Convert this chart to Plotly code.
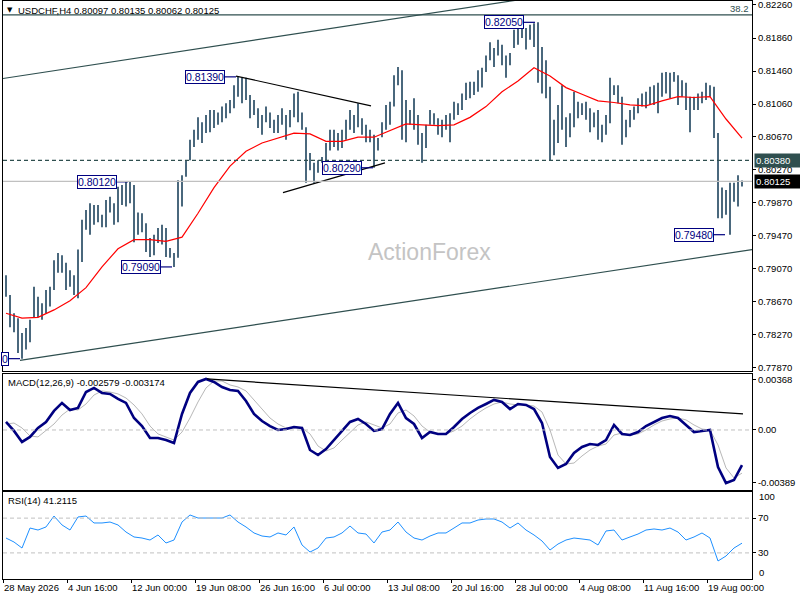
import plotly.graph_objects as go
from plotly.subplots import make_subplots

# ---- data (H4 USDCHF) ----
symbol_info = "USDCHF,H4 0.80097 0.80135 0.80062 0.80125"

# bar highs / lows, one entry every second H4 bar
bar_high = [
    0.7899, 0.7875, 0.7853, 0.7847, 0.7829, 0.7835, 0.7845, 0.7885, 0.7873, 0.7865,
    0.7881, 0.7885, 0.7917, 0.7926, 0.7923, 0.7914, 0.7905, 0.7899, 0.7930, 0.7966,
    0.7978, 0.7986, 0.7984, 0.7984, 0.7972, 0.7990, 0.7994, 0.7986, 0.8006, 0.8008,
    0.8012, 0.8012, 0.8008, 0.7975, 0.7974, 0.7962, 0.7944, 0.7948, 0.7956, 0.7960,
    0.7956, 0.7932, 0.7926, 0.8014, 0.8020, 0.8038, 0.8063, 0.8075, 0.8090, 0.8084,
    0.8093, 0.8099, 0.8099, 0.8096, 0.8103, 0.8107, 0.8111, 0.8129, 0.8139, 0.8138,
    0.8138, 0.8117, 0.8111, 0.8101, 0.8093, 0.8103, 0.8096, 0.8087, 0.8093, 0.8101,
    0.8093, 0.8099, 0.8119, 0.8121, 0.8096, 0.8078, 0.8047, 0.8035, 0.8038, 0.8042,
    0.8059, 0.8075, 0.8075, 0.8071, 0.8075, 0.8087, 0.8099, 0.8093, 0.8107, 0.8089,
    0.8081, 0.8075, 0.8069, 0.8065, 0.8084, 0.8105, 0.8109, 0.8141, 0.8151, 0.8147,
    0.8111, 0.8099, 0.8113, 0.8093, 0.8071, 0.8081, 0.8099, 0.8095, 0.8089, 0.8087,
    0.8093, 0.8095, 0.8109, 0.8107, 0.8119, 0.8132, 0.8133, 0.8133, 0.8147, 0.8150,
    0.8165, 0.8181, 0.8174, 0.8184, 0.8178, 0.8165, 0.8168, 0.8196, 0.8198, 0.8204,
    0.8198, 0.8202, 0.8204, 0.8205, 0.8175, 0.8159, 0.8127, 0.8087, 0.8105, 0.8129,
    0.8090, 0.8095, 0.8121, 0.8109, 0.8107, 0.8109, 0.8101, 0.8096, 0.8099, 0.8081,
    0.8093, 0.8138, 0.8129, 0.8129, 0.8115, 0.8087, 0.8099, 0.8103, 0.8113, 0.8119,
    0.8121, 0.8127, 0.8129, 0.8132, 0.8144, 0.8145, 0.8144, 0.8145, 0.8141, 0.8135,
    0.8132, 0.8115, 0.8115, 0.8119, 0.8121, 0.8132, 0.8129, 0.8127, 0.8071, 0.8005,
    0.8002, 0.8011, 0.8011, 0.8020, 0.80135,
]
bar_low = [
    0.7873, 0.7836, 0.7830, 0.7805, 0.7798, 0.7809, 0.7818, 0.7848, 0.7848, 0.7845,
    0.7853, 0.7861, 0.7881, 0.7902, 0.7902, 0.7881, 0.7885, 0.7875, 0.7871, 0.7915,
    0.7954, 0.7948, 0.7960, 0.7963, 0.7957, 0.7957, 0.7975, 0.7960, 0.7963, 0.7984,
    0.7982, 0.7986, 0.7939, 0.7948, 0.7951, 0.7927, 0.7921, 0.7923, 0.7938, 0.7936,
    0.7921, 0.7920, 0.7909, 0.7920, 0.7982, 0.8018, 0.8038, 0.8054, 0.8063, 0.8059,
    0.8071, 0.8072, 0.8077, 0.8081, 0.8084, 0.8089, 0.8095, 0.8101, 0.8115, 0.8107,
    0.8111, 0.8089, 0.8093, 0.8077, 0.8069, 0.8084, 0.8077, 0.8071, 0.8071, 0.8081,
    0.8063, 0.8078, 0.8090, 0.8084, 0.8075, 0.8011, 0.8026, 0.8011, 0.8023, 0.8035,
    0.8038, 0.8050, 0.8054, 0.8050, 0.8053, 0.8063, 0.8075, 0.8071, 0.8078, 0.8069,
    0.8060, 0.8060, 0.8029, 0.8050, 0.8066, 0.8075, 0.8081, 0.8103, 0.8129, 0.8063,
    0.8060, 0.8081, 0.8075, 0.8057, 0.8035, 0.8053, 0.8081, 0.8081, 0.8069, 0.8066,
    0.8075, 0.8060, 0.8087, 0.8093, 0.8099, 0.8111, 0.8113, 0.8117, 0.8121, 0.8126,
    0.8145, 0.8159, 0.8151, 0.8165, 0.8153, 0.8138, 0.8153, 0.8174, 0.8178, 0.8186,
    0.8172, 0.8184, 0.8175, 0.8132, 0.8119, 0.8113, 0.8038, 0.8044, 0.8059, 0.8075,
    0.8054, 0.8066, 0.8078, 0.8089, 0.8093, 0.8087, 0.8072, 0.8078, 0.8063, 0.8060,
    0.8069, 0.8083, 0.8117, 0.8107, 0.8057, 0.8066, 0.8078, 0.8087, 0.8095, 0.8103,
    0.8101, 0.8105, 0.8105, 0.8095, 0.8115, 0.8119, 0.8113, 0.8133, 0.8105, 0.8115,
    0.8099, 0.8072, 0.8099, 0.8099, 0.8107, 0.8111, 0.8115, 0.8065, 0.7968, 0.7968,
    0.7972, 0.7948, 0.7988, 0.7982, 0.80062,
]

# 55-period moving average, one value every 8 H4 bars
ma_values = [
    0.7853, 0.7847, 0.7848, 0.7857, 0.7868, 0.7884, 0.7909, 0.7931, 0.7942, 0.7942,
    0.7940, 0.7945, 0.7974, 0.8005, 0.8031, 0.8049, 0.8059, 0.8065, 0.8071, 0.8070,
    0.8061, 0.8061, 0.8066, 0.8066, 0.8074, 0.8082, 0.8081, 0.8080, 0.8081, 0.8090,
    0.8103, 0.8121, 0.8134, 0.8150, 0.8140, 0.8126, 0.8118, 0.8110, 0.8108, 0.8105,
    0.8104, 0.8110, 0.8115, 0.8114, 0.8115, 0.8088, 0.8065,
]

# indicators, one value every 4 H4 bars
macd_values = [
    0.00059, -0.00007, -0.00088, -0.00051, 0.00015, 0.00059, 0.00140, 0.00199, 0.00147, 0.00162,
    0.00279, 0.00309, 0.00272, 0.00265, 0.00228, 0.00199, 0.00088, 0.00029, -0.00059, -0.00059,
    -0.00074, -0.00096, 0.00118, 0.00272, 0.00353, 0.00375, 0.00353, 0.00316, 0.00294, 0.00287,
    0.00213, 0.00118, 0.00066, 0.00029, 0.00000, 0.00007, 0.00022, 0.00015, -0.00147, -0.00184,
    -0.00140, -0.00074, -0.00007, 0.00059, 0.00081, 0.00044, -0.00007, 0.00007, 0.00118, 0.00199,
    0.00088, 0.00044, -0.00059, -0.00015, -0.00029, -0.00029, 0.00022, 0.00081, 0.00125, 0.00162,
    0.00191, 0.00221, 0.00206, 0.00154, 0.00191, 0.00184, 0.00154, 0.00051, -0.00199, -0.00279,
    -0.00250, -0.00169, -0.00125, -0.00103, -0.00110, -0.00074, 0.00037, -0.00029, -0.00037, -0.00015,
    0.00029, 0.00059, 0.00088, 0.00103, 0.00088, 0.00037, -0.00015, -0.00007, 0.00000, -0.00272,
    -0.00390, -0.00368, -0.00258,
]
signal_values = [
    0.00044, 0.00051, 0.00015, -0.00044, -0.00051, 0.00000, 0.00044, 0.00110, 0.00154, 0.00147,
    0.00191, 0.00257, 0.00287, 0.00279, 0.00265, 0.00235, 0.00184, 0.00118, 0.00029, -0.00029,
    -0.00051, -0.00074, -0.00015, 0.00088, 0.00206, 0.00309, 0.00360, 0.00360, 0.00331, 0.00316,
    0.00287, 0.00221, 0.00147, 0.00088, 0.00044, 0.00015, 0.00015, 0.00015, -0.00029, -0.00118,
    -0.00154, -0.00132, -0.00074, -0.00015, 0.00037, 0.00059, 0.00037, 0.00015, 0.00044, 0.00125,
    0.00147, 0.00103, 0.00029, -0.00015, -0.00029, -0.00029, -0.00007, 0.00029, 0.00081, 0.00125,
    0.00162, 0.00191, 0.00206, 0.00191, 0.00184, 0.00184, 0.00176, 0.00132, 0.00000, -0.00184,
    -0.00250, -0.00243, -0.00191, -0.00147, -0.00118, -0.00103, -0.00037, -0.00022, -0.00037, -0.00029,
    0.00000, 0.00037, 0.00066, 0.00081, 0.00088, 0.00074, 0.00037, 0.00007, 0.00000, -0.00110,
    -0.00279, -0.00353, -0.00317,
]
rsi_values = [
    47.1, 42.5, 35.6, 58.6, 56.3, 59.8, 72.4, 62.1, 56.3, 71.3,
    72.4, 64.4, 64.4, 65.5, 62.1, 54.0, 48.3, 47.1, 44.8, 50.6,
    41.4, 44.8, 65.5, 73.6, 70.1, 70.1, 70.1, 70.1, 73.6, 65.5,
    59.8, 52.9, 49.4, 48.3, 52.9, 50.6, 59.8, 39.1, 31.0, 35.6,
    47.1, 48.3, 52.9, 60.9, 52.9, 51.7, 41.4, 54.0, 56.3, 65.5,
    54.0, 47.1, 44.8, 49.4, 52.9, 52.9, 58.6, 64.4, 64.4, 67.8,
    69.0, 69.0, 65.5, 58.6, 64.4, 56.3, 50.6, 43.7, 33.3, 40.2,
    44.8, 47.1, 46.0, 44.8, 39.1, 55.2, 56.3, 44.8, 48.3, 51.7,
    56.3, 57.5, 56.3, 58.6, 54.0, 44.8, 48.3, 52.9, 47.1, 20.7,
    26.4, 35.6, 41.2,
]

date_labels = ["28 May 2026", "4 Jun 16:00", "12 Jun 00:00", "19 Jun 08:00",
               "26 Jun 16:00", "6 Jul 00:00", "13 Jul 08:00", "20 Jul 16:00",
               "28 Jul 00:00", "4 Aug 08:00", "11 Aug 16:00", "19 Aug 00:00"]
price_ticks = [0.82260, 0.81860, 0.81460, 0.81060, 0.80670, 0.80270,
               0.79870, 0.79470, 0.79070, 0.78670, 0.78270, 0.77870]
macd_ticks = [0.00368, 0.0, -0.00389]

# drawn objects, (bar, price)
upper_channel = [(0, 0.8137), (260, 0.8233)]
lower_channel = [(8.5, 0.7796), (374.5, 0.7930)]
triangle_top = [(116.5, 0.8140), (184, 0.8104)]
triangle_bottom = [(140, 0.7999), (191, 0.8035)]
macd_trend = [(102, 0.00375), (370, 0.00118)]
swing_points = [(116.5, 0.81390), (62.5, 0.80120), (185, 0.80290),
                (84.5, 0.79090), (266, 0.82050), (361, 0.79480)]
first_low = (8.5, 0.77980)
resistance = 0.80380
last_price = 0.80125
fib_level = 0.82140

BAR_COL = "#0E3652"
FONT = "Liberation Sans"

fig = make_subplots(rows=3, cols=1, shared_xaxes=True, vertical_spacing=0.005)

# price bars drawn as high-low sticks
bx, by = [], []
for k in range(len(bar_high)):
    xk = 1.5 + 2 * k
    bx += [xk, xk, None]
    by += [bar_low[k], bar_high[k], None]
fig.add_trace(go.Scatter(x=bx, y=by, mode='lines', line=dict(color=BAR_COL, width=1.5),
                         hoverinfo='skip'), 1, 1)

fig.add_trace(go.Scatter(x=[1.5 + 8 * i for i in range(len(ma_values))], y=ma_values,
                         mode='lines', line=dict(color='red', width=1.2)), 1, 1)

for seg, col in [(upper_channel, '#2F4F4F'), (lower_channel, '#2F4F4F'),
                 (triangle_top, 'black'), (triangle_bottom, 'black')]:
    fig.add_trace(go.Scatter(x=[p[0] for p in seg], y=[p[1] for p in seg], mode='lines',
                             line=dict(color=col, width=1.2)), 1, 1)

# swing labels with connectors
for bar, price in swing_points + [first_low]:
    fig.add_trace(go.Scatter(x=[bar - 5.5, bar], y=[price, price], mode='lines',
                             line=dict(color='#000080', width=1.2)), 1, 1)

ix = [1.5 + 4 * i for i in range(len(macd_values))]
fig.add_trace(go.Scatter(x=ix, y=signal_values, mode='lines',
                         line=dict(color='#B8B8B8', width=1)), 2, 1)
fig.add_trace(go.Scatter(x=ix, y=macd_values, mode='lines',
                         line=dict(color='#000080', width=2.6)), 2, 1)
fig.add_trace(go.Scatter(x=[p[0] for p in macd_trend], y=[p[1] for p in macd_trend],
                         mode='lines', line=dict(color='black', width=1.2)), 2, 1)

fig.add_trace(go.Scatter(x=ix, y=rsi_values, mode='lines',
                         line=dict(color='#1E90FF', width=1)), 3, 1)

# horizontal levels
fig.add_shape(type='line', xref='x domain', yref='y', x0=0, x1=1, y0=fib_level, y1=fib_level,
              line=dict(color='#2F4F4F', width=1.2))
fig.add_shape(type='line', xref='x domain', yref='y', x0=0, x1=1, y0=resistance, y1=resistance,
              line=dict(color='#2F4F4F', width=1.2, dash='4px,3px'))
fig.add_shape(type='line', xref='x domain', yref='y', x0=0, x1=1, y0=last_price, y1=last_price,
              line=dict(color='#C0C0C0', width=1.2))
fig.add_shape(type='line', xref='x2 domain', yref='y2', x0=0, x1=1, y0=0, y1=0,
              line=dict(color='#C0C0C0', width=1, dash='4px,3px'))
for lvl in [70, 30]:
    fig.add_shape(type='line', xref='x3 domain', yref='y3', x0=0, x1=1, y0=lvl, y1=lvl,
                  line=dict(color='#C0C0C0', width=1, dash='4px,3px'))

ann = []
for bar, price in swing_points:
    ann.append(dict(x=bar - 5.5, y=price, xref='x', yref='y', text=f"{price:.5f}",
                    xanchor='right', yanchor='middle', showarrow=False,
                    font=dict(family=FONT, size=10.5, color='#000080'),
                    bgcolor='white', bordercolor='#000080', borderwidth=1, borderpad=0))
ann.append(dict(x=first_low[0] - 5.5, y=first_low[1], xref='x', yref='y', text="0",
                xanchor='right', yanchor='middle', showarrow=False,
                font=dict(family=FONT, size=10.5, color='#000080'),
                bgcolor='white', bordercolor='#000080', borderwidth=1, borderpad=0))
ann.append(dict(x=0.57, y=0.7927, xref='paper', yref='y', text="ActionForex", showarrow=False,
                font=dict(family=FONT, size=23, color='#C4C4C4')))
ann.append(dict(x=0, y=1, xref='paper', yref='paper', text="▼", showarrow=False,
                xanchor='left', yanchor='top', xshift=2, yshift=-3,
                font=dict(family='DejaVu Sans', size=7, color='black')))
ann.append(dict(x=0, y=1, xref='paper', yref='paper', text=symbol_info, showarrow=False,
                xanchor='left', yanchor='top', xshift=13, yshift=-2,
                font=dict(family=FONT, size=9.5, color='black')))
ann.append(dict(x=1, y=fib_level, xref='paper', yref='y', text="38.2", showarrow=False,
                xanchor='right', yanchor='bottom', xshift=-1, yshift=-1,
                font=dict(family=FONT, size=9.5, color='#2F4F4F')))
for price, bg in [(resistance, '#2F4F4F'), (last_price, 'black')]:
    ann.append(dict(x=1, y=price, xref='paper', yref='y', text=f"{price:.5f}", showarrow=False,
                    xanchor='left', yanchor='middle', xshift=2, width=43, height=11,
                    align='left', bgcolor=bg, font=dict(family=FONT, size=9.5, color='white')))
ann.append(dict(x=0, y=1, xref='paper', yref='y2 domain', text="MACD(12,26,9) -0.002579 -0.003174",
                showarrow=False, xanchor='left', yanchor='top', xshift=3, yshift=-1,
                font=dict(family=FONT, size=9.5, color='black')))
ann.append(dict(x=0, y=1, xref='paper', yref='y3 domain', text="RSI(14) 41.2115",
                showarrow=False, xanchor='left', yanchor='top', xshift=3, yshift=-1,
                font=dict(family=FONT, size=9.5, color='black')))
for lab, val in [("100", 94.3), ("0", 8)]:
    ann.append(dict(x=1, y=val, xref='paper', yref='y3', text=lab, showarrow=False,
                    xanchor='left', yanchor='middle', xshift=5,
                    font=dict(family=FONT, size=9.5, color='black')))

fig.update_layout(
    width=800, height=600, margin=dict(l=3, r=48, t=1, b=21),
    paper_bgcolor='white', plot_bgcolor='white', showlegend=False,
    font=dict(family=FONT, size=9.5, color='black'),
    annotations=ann,
)
axis_style = dict(showline=True, mirror=True, linecolor='black', linewidth=1,
                  showgrid=False, zeroline=False, automargin=False)
fig.update_xaxes(range=[0, 374.5], **axis_style)
fig.update_xaxes(showticklabels=False, ticks='', row=1, col=1)
fig.update_xaxes(showticklabels=False, ticks='', row=2, col=1)
fig.update_xaxes(tickvals=[32 * i for i in range(len(date_labels))], ticktext=date_labels,
                 ticks='outside', ticklen=3, tickcolor='black', tickangle=0,
                 ticklabelposition='outside right', row=3, col=1)
fig.update_yaxes(side='right', ticks='outside', ticklen=3, tickcolor='black',
                 ticklabeloverflow='allow', **axis_style)
fig.update_yaxes(domain=[0.3599, 1], range=[0.77831, 0.82308], tickvals=price_ticks,
                 tickformat='.5f', row=1, col=1)
fig.update_yaxes(domain=[0.154, 0.3547], range=[-0.00441, 0.004116], tickvals=macd_ticks,
                 ticktext=['0.00368', '0.00', '-0.00389'], row=2, col=1)
fig.update_yaxes(domain=[0, 0.1505], range=[0, 100], tickvals=[70, 30], row=3, col=1)

# page without body margin so the 800x600 figure fills the window
fig.write_html("out.html", config={'displayModeBar': False},
               post_script="document.body.style.margin='0';document.body.style.overflow='hidden';")
